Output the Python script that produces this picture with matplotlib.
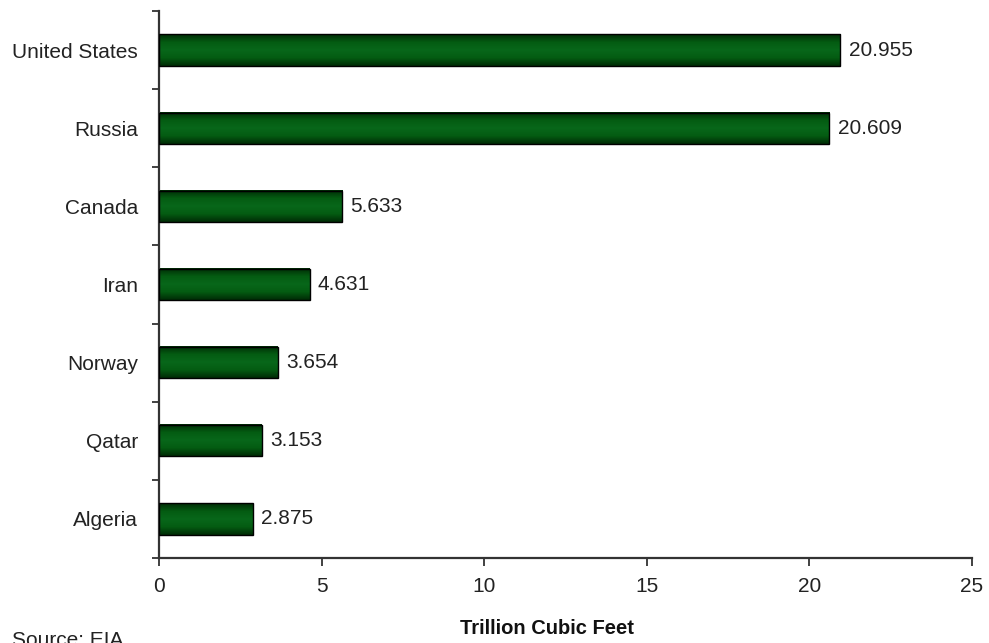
import numpy as np
import matplotlib.pyplot as plt
from matplotlib.colors import LinearSegmentedColormap

countries = ['United States', 'Russia', 'Canada', 'Iran', 'Norway', 'Qatar', 'Algeria']
production = [20.955, 20.609, 5.633, 4.631, 3.654, 3.153, 2.875]
value_labels = ['20.955', '20.609', '5.633', '4.631', '3.654', '3.153', '2.875']
xticks = [0, 5, 10, 15, 20, 25]

plt.rcParams['font.family'] = ['Liberation Sans', 'DejaVu Sans']

fig = plt.figure(figsize=(9.89, 6.43), dpi=100)
ax = fig.add_axes([0.1608, 0.1322, 0.8220, 0.8507])

# dark edges, lighter middle for each bar
shade = LinearSegmentedColormap.from_list(
    'shade', ['#002c06', '#045c12', '#08671a', '#045c12', '#002c06'])
grad = np.linspace(0, 1, 64).reshape(-1, 1)

ypos = np.arange(len(countries))[::-1]
height = 0.40
bars = ax.barh(ypos, production, height=height, color='none',
               edgecolor='black', linewidth=1.0, zorder=3)
for bar in bars:
    x0, y0 = bar.get_x(), bar.get_y()
    w, h = bar.get_width(), bar.get_height()
    ax.imshow(grad, cmap=shade, aspect='auto', interpolation='bilinear',
              extent=[x0, x0 + w, y0, y0 + h], zorder=2)

for y, v, lab in zip(ypos, production, value_labels):
    ax.annotate(lab, (v, y), xytext=(6, 0), textcoords='offset points',
                va='center', ha='left', fontsize=15, color='#222222')

ax.set_xlim(0, 25)
ax.set_ylim(-0.5, len(countries) - 0.5)
ax.set_xticks(xticks)
ax.set_xticklabels([str(t) for t in xticks], fontsize=15, color='#222222')
ax.set_yticks(np.arange(-0.5, len(countries), 1.0))
ax.set_yticklabels([])
ax.set_yticks(ypos, minor=True)
ax.set_yticklabels(countries, minor=True, fontsize=15, color='#222222')
ax.tick_params(axis='y', which='minor', length=0, pad=15)
ax.tick_params(axis='y', which='major', length=5, width=1.3, color='#333333')
ax.tick_params(axis='x', length=6, width=1.3, color='#333333', pad=8)

for side in ['top', 'right']:
    ax.spines[side].set_visible(False)
for side in ['left', 'bottom']:
    ax.spines[side].set_linewidth(1.6)
    ax.spines[side].set_color('#333333')

fig.text(0.553, 1 - 628 / 643, 'Trillion Cubic Feet', ha='center', va='center',
         fontsize=14.5, fontweight='bold', color='#111111')
fig.text(0.012, 1 - 641 / 643, 'Source: EIA', ha='left', va='center',
         fontsize=15, color='#222222')

fig.savefig('out.png', dpi=100)
